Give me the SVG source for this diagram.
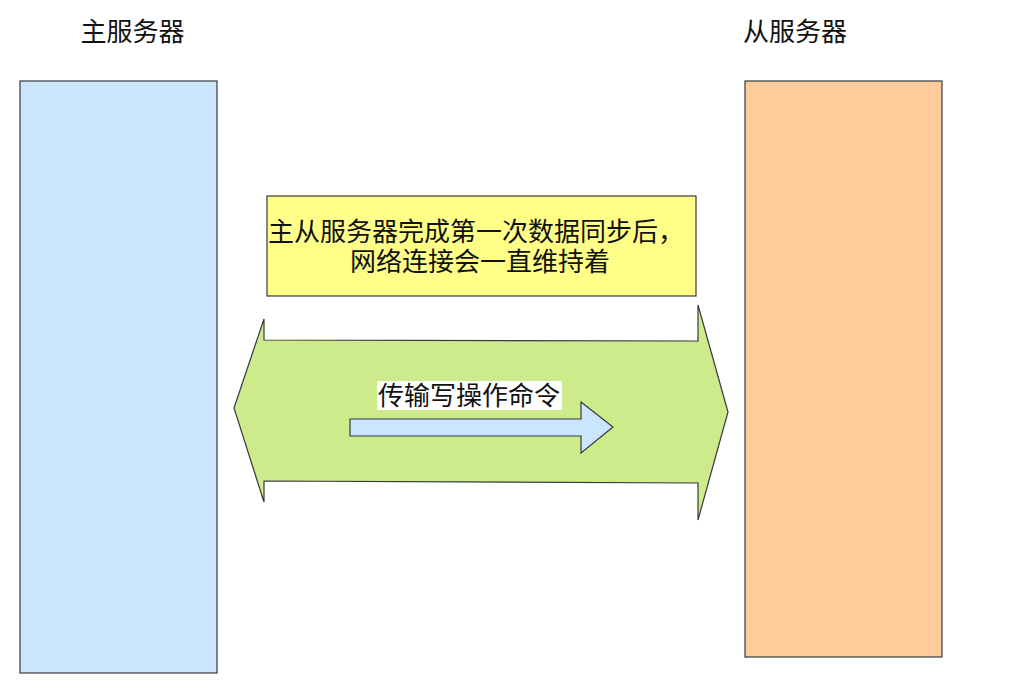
<svg xmlns="http://www.w3.org/2000/svg" width="1027" height="697" viewBox="0 0 1027 697">
<style>
text{font-family:"Noto Sans CJK SC","Noto Sans",sans-serif;fill:#111;}
.t{font-size:26px;}
.s{stroke:#36393d;stroke-width:1.2;}
</style>
<rect width="1027" height="697" fill="#fff"/>
<g id="master">
<rect class="s" x="20" y="81" width="197" height="592" fill="#cce5ff"/>
<text class="t" x="132.5" y="41" text-anchor="middle">主服务器</text>
</g>
<g id="slave">
<rect class="s" x="745" y="81" width="197" height="576" fill="#ffcc99"/>
<text class="t" x="795" y="41" text-anchor="middle">从服务器</text>
</g>
<g id="note">
<rect class="s" x="267" y="196" width="429" height="100" fill="#ffff88"/>
<text class="t" text-anchor="middle"><tspan x="476" y="241">主从服务器完成第一次数据同步后，</tspan><tspan x="480" y="271">网络连接会一直维持着</tspan></text>
</g>
<g id="connectors">
<polygon id="link" class="s" fill="#cdeb8b" points="234,408 264,319 264,340 698,341 698,305 728,412 698,520 698,483 264,481 264,502"/>
<polygon id="cmd-arrow" class="s" fill="#cce5ff" points="350,419 581,419 581,402 613,427 581,453 581,436 350,436"/>
<rect x="377" y="381" width="185" height="29" fill="#fff"/>
<text class="t" x="469" y="405" text-anchor="middle">传输写操作命令</text>
</g>
</svg>
